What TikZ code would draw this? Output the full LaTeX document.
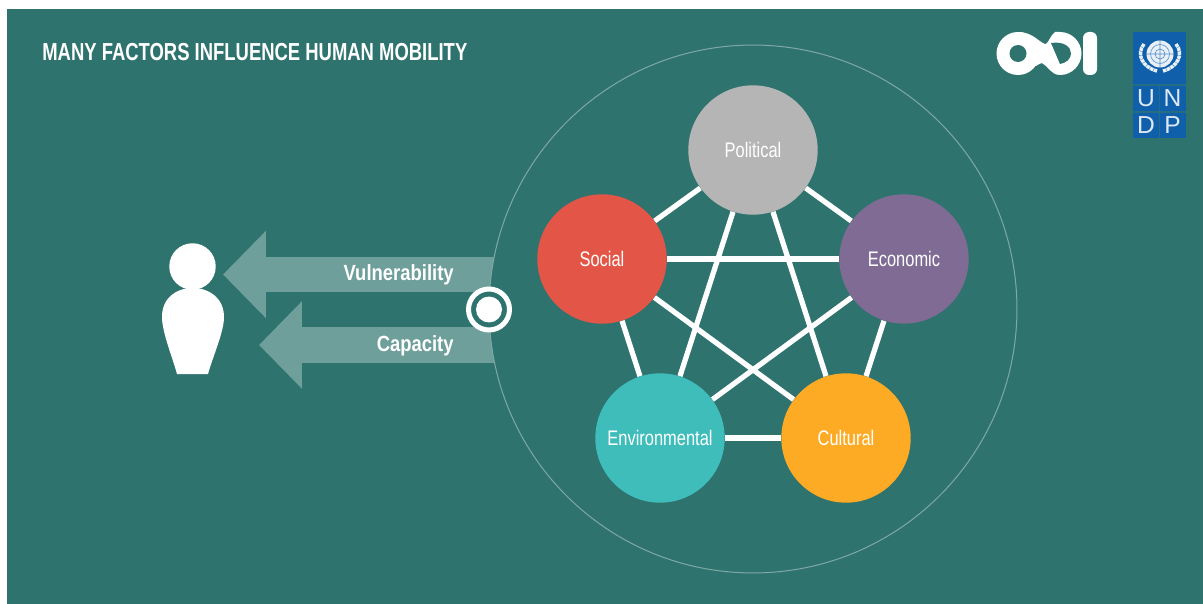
\documentclass[tikz,border=0pt]{standalone}
\usepackage{fontspec}
\setmainfont{Liberation Sans}
\newfontfamily\narrowfont[FakeStretch=0.78]{Liberation Sans}
\newfontfamily\headfont[FakeStretch=0.84]{Liberation Sans}
\newfontfamily\titlefont[FakeStretch=0.75]{Liberation Sans}
\usetikzlibrary{arrows.meta,positioning}
\definecolor{bgteal}{HTML}{2F736F}
\definecolor{arrowteal}{HTML}{6E9F9B}
\definecolor{ringline}{HTML}{7FA8A5}
\definecolor{polgrey}{HTML}{B5B5B5}
\definecolor{socred}{HTML}{E35647}
\definecolor{ecopurple}{HTML}{7F6B93}
\definecolor{envteal}{HTML}{3EBDBB}
\definecolor{culorange}{HTML}{FDAA25}
\definecolor{undpblue}{HTML}{0F5FAB}
\definecolor{undptext}{HTML}{DDE9F4}

\begin{document}
\begin{tikzpicture}[x=0.02cm,y=-0.02cm,
    factor/.style={circle,minimum size=2.588cm,inner sep=0pt,text=white,font=\narrowfont\fontsize{12}{14}\selectfont},
    link/.style={draw=white,line width=0.105cm},
    bigarrow/.style={draw=arrowteal,line width=0.72cm,-{Triangle[length=0.86cm,width=1.7cm]}},
    armlabel/.style={text=white,inner sep=0pt,anchor=east,font=\headfont\bfseries\fontsize{12.5}{14}\selectfont},
    undpletter/.style={text=undptext,inner sep=0pt,font=\fontsize{14}{16}\selectfont}]
  \useasboundingbox (0,0) rectangle (1203,604);
  \fill[white] (0,0) rectangle (1203,604);
  \fill[bgteal] (7,9) rectangle (1203,604);

  \node[text=white,inner sep=0pt,anchor=west,font=\titlefont\bfseries\fontsize{14}{16}\selectfont] (title) at (42,52.5) {MANY FACTORS INFLUENCE HUMAN MOBILITY};

  \coordinate (vulnstart) at (520,274.5);
  \coordinate (vulnend) at (223,274.5);
  \coordinate (capstart) at (520,345);
  \coordinate (capend) at (259,345);
  \draw[bigarrow] (vulnstart) -- (vulnend);
  \draw[bigarrow] (capstart) -- (capend);

  \node[circle,fill=bgteal,draw=ringline,line width=0.02cm,minimum size=10.56cm,inner sep=0pt] (ring) at (753,309) {};

  \node[factor,fill=polgrey]   (political) at (753,150) {\raisebox{-1pt}{Political}};
  \node[factor,fill=socred]    (social)    at (602,259) {\raisebox{-1pt}{Social}};
  \node[factor,fill=ecopurple] (economic)  at (904,259) {\raisebox{-1pt}{Economic}};
  \node[factor,fill=envteal]   (environ)   at (660,438) {\raisebox{-1pt}{Environmental}};
  \node[factor,fill=culorange] (cultural)  at (846,438) {\raisebox{-1pt}{Cultural}};

  \path[link] (political) edge (social)
               edge (economic)
               edge (environ)
               edge (cultural)
        (social) edge (economic)
               edge (environ)
               edge (cultural)
        (economic) edge (environ)
               edge (cultural)
        (environ) edge (cultural);

  \node[armlabel] (vulnlabel) at (454,274.5) {Vulnerability};
  \node[armlabel] (caplabel) at (454,346) {Capacity};

  \node[circle,draw=white,fill=bgteal,line width=0.1cm,minimum size=0.82cm,inner sep=0pt] (targetring) at (489,309.5) {};
  \node[circle,fill=white,minimum size=0.52cm,inner sep=0pt] (targetdot) at (489,309.5) {};

  \node[circle,fill=white,minimum size=0.93cm,inner sep=0pt] (head) at (192.5,266.5) {};
  \fill[white] (177,374) -- (208,374) .. controls (213,356) and (224,332) .. (224,317)
    .. controls (224,298) and (209,288) .. (193,288)
    .. controls (176,288) and (162,298) .. (162,317)
    .. controls (162,332) and (172,356) .. (177,374) -- cycle;

  \fill[white] (1018,53.5) circle (21.5);
  \fill[white] (1018,32) .. controls (1034,32) and (1040,44) .. (1046,44)
    .. controls (1049,42) and (1050,36) .. (1055,32)
    -- (1060,32) .. controls (1072,32) and (1081.5,42) .. (1081.5,53.5)
    .. controls (1081.5,65) and (1072,75) .. (1060,75)
    .. controls (1051,75) and (1048,66) .. (1042,63)
    .. controls (1040,63) and (1038,65) .. (1036,66) -- (1018,53.5) -- cycle;
  \fill[bgteal] (1018,53.5) circle (8.5);
  \fill[bgteal] (1051,43) .. controls (1064,41) and (1071,47) .. (1071,53.5)
    .. controls (1071,59) and (1066,63) .. (1060,64) -- cycle;
  \fill[white,rounded corners=0.12cm] (1083,32) rectangle (1097,75);

  \fill[undpblue] (1133,32) rectangle (1186,138.5);
  \draw[bgteal!70!undpblue,line width=0.025cm] (1133,85) -- (1186,85) (1133,112) -- (1186,112) (1159.5,85) -- (1159.5,138.5);
  \node[undpletter] (undpu) at (1146,98.5) {U};
  \node[undpletter] (undpn) at (1172.5,98.5) {N};
  \node[undpletter] (undpd) at (1146,125.5) {D};
  \node[undpletter] (undpp) at (1172.5,125.5) {P};

  \fill[white!90!undpblue] (1160,54) circle (13.5);
  \draw[undpblue!70!white,line width=0.012cm] (1160,54) circle (9.5) (1160,54) circle (5) (1147,54) -- (1173,54) (1160,41) -- (1160,67);
  \draw[white!90!undpblue,line width=0.07cm,dash pattern=on 0.07cm off 0.012cm] (1144,44) .. controls (1136,54) and (1142,67) .. (1157,71);
  \draw[white!90!undpblue,line width=0.07cm,dash pattern=on 0.07cm off 0.012cm] (1176,44) .. controls (1184,54) and (1178,67) .. (1163,71);
\end{tikzpicture}
\end{document}
